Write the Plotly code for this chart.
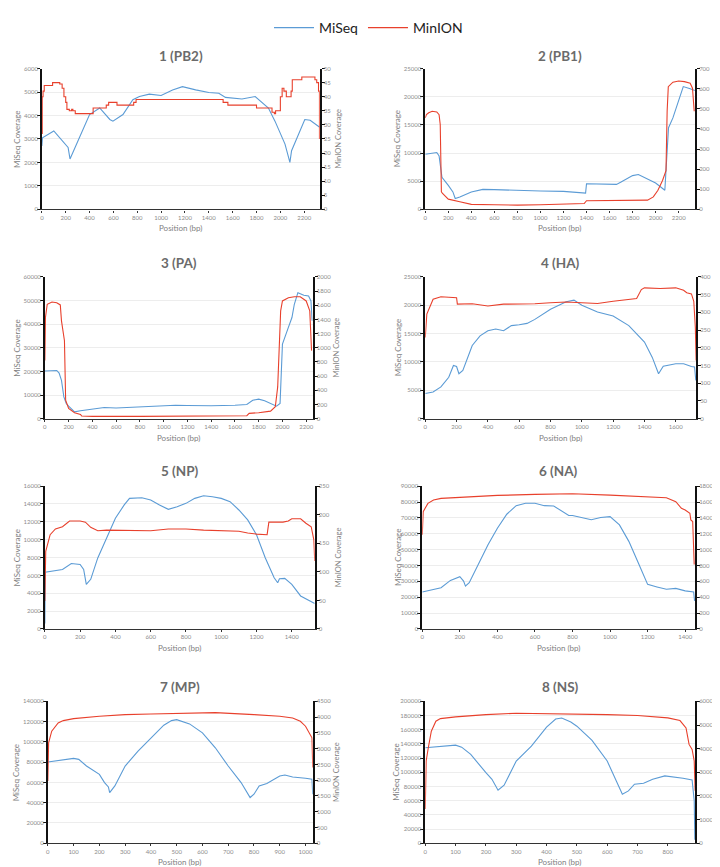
import plotly.graph_objects as go

# ---------------- DATA ----------------
segments = ["1 (PB2)", "2 (PB1)", "3 (PA)", "4 (HA)", "5 (NP)", "6 (NA)", "7 (MP)", "8 (NS)"]
x_max = [2330, 2343, 2255, 1730, 1530, 1453, 1028, 890]
x_dtick = [200, 200, 200, 200, 200, 200, 100, 100]
miseq_max = [6000, 25000, 60000, 25000, 16000, 90000, 140000, 200000]
miseq_dtick = [1000, 5000, 10000, 5000, 2000, 10000, 20000, 20000]
minion_max = [50, 700, 2000, 400, 250, 1800, 4500, 6000]
minion_dtick = [5, 100, 200, 50, 50, 200, 500, 1000]

# 1 (PB2)
pb2_miseq_pos = [0, 5, 100, 220, 236, 291, 375, 400, 485, 570, 596, 680, 763, 818, 901, 1000, 1096, 1179,
                 1290, 1400, 1484, 1540, 1678, 1789, 1900, 1955, 2039, 2080, 2094, 2177, 2205, 2250, 2316, 2330]
pb2_miseq_val = [2700, 3050, 3340, 2640, 2150, 2780, 3760, 4040, 4320, 3830, 3760, 4040, 4670, 4810, 4910, 4850,
                 5090, 5230, 5090, 4980, 4950, 4770, 4700, 4810, 4320, 3760, 2780, 2000, 2500, 3550, 3830, 3800, 3550, 3500]
pb2_minion_pos = [0, 3, 10, 20, 90, 150, 170, 185, 200, 210, 230, 250, 260, 280, 430, 540, 560, 630, 770, 790,
                  1520, 1560, 1800, 1930, 1950, 1960, 2000, 2015, 2030, 2050, 2090, 2100, 2180, 2290, 2305, 2320, 2328]
pb2_minion_val = [27, 40, 42, 44, 45, 44.5, 43, 40, 38, 35.5, 35, 35.5, 35, 34, 36, 37, 38, 37, 38, 39,
                  38, 37, 36, 34.5, 34, 35, 40, 43, 42, 40, 42, 46, 47, 46, 45, 42, 25]

# 2 (PB1)
pb1_miseq_pos = [0, 100, 120, 145, 200, 240, 260, 300, 400, 500, 600, 800, 1000, 1200, 1380, 1392, 1400, 1650,
                 1660, 1700, 1800, 1850, 1900, 1950, 2000, 2080, 2100, 2112, 2150, 2200, 2240, 2300, 2340]
pb1_miseq_val = [9800, 10100, 9500, 5700, 4260, 3100, 1930, 2200, 3100, 3560, 3500, 3330, 3270, 3200, 3040, 2900,
                 4550, 4550, 4440, 4850, 6000, 6200, 5700, 5140, 4670, 3390, 9200, 14500, 16240, 19150, 21800, 21400, 21100]
pb1_minion_pos = [0, 10, 30, 60, 100, 120, 130, 140, 150, 200, 300, 400, 600, 800, 1000, 1200, 1380, 1400,
                  1600, 1800, 1930, 1980, 2020, 2060, 2090, 2100, 2110, 2150, 2200, 2250, 2300, 2320, 2335]
pb1_minion_val = [455, 471, 480, 488, 484, 471, 422, 87, 79, 51, 38, 25, 23, 21, 23, 25, 29, 43,
                  44, 44, 46, 62, 95, 144, 193, 488, 610, 632, 638, 635, 627, 602, 488]

# 3 (PA)
pa_miseq_pos = [0, 100, 120, 140, 160, 180, 200, 250, 300, 400, 500, 600, 800, 900, 1000, 1100, 1200, 1300,
                1400, 1600, 1700, 1750, 1800, 1850, 1900, 1950, 1980, 2000, 2050, 2080, 2100, 2130, 2180, 2220, 2240, 2250]
pa_miseq_val = [20140, 20400, 19300, 16200, 9200, 6400, 5300, 2900, 3360, 4200, 4750, 4500, 5000, 5450, 5600,
                5700, 5600, 5450, 5450, 5700, 6000, 7800, 8250, 7550, 6400, 5300, 6400, 31600, 38600, 42800,
                48400, 53300, 52200, 51900, 49800, 41400]
pa_minion_pos = [0, 5, 20, 60, 100, 130, 140, 155, 165, 175, 200, 250, 300, 310, 400, 800, 1000, 1060, 1700,
                 1720, 1800, 1900, 1940, 1960, 1975, 1985, 2000, 2050, 2100, 2150, 2200, 2230, 2245]
pa_minion_val = [820, 1427, 1613, 1646, 1636, 1604, 1380, 1240, 1100, 261, 144, 84, 61, 37, 33, 33, 33, 42, 42,
                 75, 84, 107, 168, 448, 1193, 1520, 1660, 1706, 1720, 1720, 1660, 1520, 960]

# 4 (HA)
ha_miseq_pos = [0, 50, 100, 150, 180, 200, 215, 240, 300, 350, 400, 450, 500, 550, 600, 650, 700, 800, 900, 950,
                1000, 1100, 1200, 1300, 1400, 1450, 1490, 1520, 1600, 1650, 1700, 1720, 1728]
ha_miseq_val = [4430, 4700, 5600, 7300, 9380, 9200, 7930, 8500, 12900, 14600, 15500, 15800, 15500, 16400, 16550,
                16800, 17500, 19300, 20600, 20900, 20000, 18800, 18100, 16400, 13500, 10800, 7930, 9260, 9670,
                9670, 9200, 9100, 6760]
ha_minion_pos = [0, 10, 50, 100, 200, 205, 300, 400, 500, 600, 700, 800, 900, 1000, 1100, 1200, 1300, 1350,
                 1380, 1400, 1500, 1600, 1650, 1670, 1700, 1715, 1725, 1730]
ha_minion_val = [229, 295, 337, 344, 341, 323, 324, 318, 323, 323, 324, 327, 329, 327, 325, 331, 337, 339,
                 364, 369, 367, 369, 362, 355, 352, 331, 257, 164]

# 5 (NP)
np_miseq_pos = [0, 2, 100, 150, 200, 220, 235, 260, 300, 350, 400, 450, 480, 550, 600, 650, 700, 750, 800, 850,
                900, 950, 1000, 1050, 1100, 1150, 1200, 1250, 1300, 1320, 1330, 1360, 1400, 1450, 1500, 1530]
np_miseq_val = [600, 6370, 6670, 7330, 7220, 6670, 5000, 5560, 7960, 10200, 12400, 13900, 14630, 14700, 14440,
                13900, 13400, 13700, 14070, 14630, 14930, 14810, 14630, 14260, 13330, 12220, 10560, 7960, 5740,
                5180, 5630, 5670, 5000, 3700, 3150, 2850]
np_minion_pos = [0, 5, 30, 60, 100, 140, 200, 230, 260, 300, 350, 400, 500, 600, 700, 800, 900, 1000, 1100,
                 1150, 1200, 1260, 1270, 1300, 1350, 1380, 1400, 1450, 1480, 1510, 1525, 1530]
np_minion_val = [49, 136, 165, 175, 179, 189, 189, 187, 178, 172, 173, 173, 172, 172, 175, 175, 173, 172, 171,
                 168, 166, 165, 187, 187, 187, 189, 193, 193, 185, 179, 156, 119]

# 6 (NA)
na_miseq_pos = [0, 100, 150, 200, 220, 230, 250, 300, 350, 400, 450, 500, 550, 600, 650, 700, 750, 780, 800,
                900, 950, 1000, 1050, 1100, 1150, 1200, 1250, 1300, 1350, 1400, 1445, 1450]
na_miseq_val = [23300, 26000, 30600, 32900, 30200, 27000, 29200, 41700, 53100, 63500, 72300, 77700, 79200,
                79200, 77700, 77500, 74000, 71500, 71500, 68800, 70200, 70800, 65600, 55200, 41700, 28100,
                26500, 25000, 25600, 24000, 23300, 17700]
na_minion_pos = [0, 5, 30, 60, 100, 200, 300, 400, 600, 800, 1000, 1200, 1300, 1350, 1380, 1400, 1425, 1430,
                 1440, 1448]
na_minion_val = [1187, 1479, 1583, 1625, 1646, 1658, 1675, 1683, 1696, 1704, 1687, 1671, 1654, 1604, 1521,
                 1500, 1458, 1375, 1354, 812]

# 7 (MP)
mp_miseq_pos = [0, 50, 100, 120, 150, 200, 220, 235, 240, 260, 300, 350, 400, 450, 480, 500, 550, 600, 650,
                700, 750, 785, 800, 820, 850, 900, 920, 950, 1000, 1025, 1028]
mp_miseq_val = [80100, 81800, 83700, 82800, 76200, 68000, 59900, 55600, 50000, 56600, 76200, 90900, 104000,
                116500, 121000, 122000, 117800, 108900, 94200, 76200, 59900, 45100, 48400, 56600, 58900,
                66400, 67400, 65400, 64100, 63100, 48400]
mp_minion_pos = [0, 3, 15, 40, 60, 100, 200, 300, 400, 500, 600, 650, 800, 900, 950, 980, 1000, 1015, 1025, 1028]
mp_minion_val = [1977, 3186, 3554, 3817, 3890, 3954, 4027, 4080, 4100, 4122, 4132, 4143, 4080, 4027, 3975,
                 3870, 3712, 3500, 3344, 2400]

# 8 (NS)
ns_miseq_pos = [0, 50, 100, 120, 150, 200, 220, 240, 260, 300, 350, 400, 430, 450, 480, 500, 550, 600, 650,
                670, 690, 720, 750, 790, 800, 850, 880, 887, 889]
ns_miseq_val = [134600, 136000, 138300, 135500, 125200, 99500, 90200, 74800, 81800, 115900, 136900, 163600,
                175200, 176600, 171000, 165000, 144900, 115900, 69200, 73800, 83200, 84600, 90200, 94900,
                94400, 91600, 89300, 60000, 5000]
ns_minion_pos = [0, 3, 10, 20, 35, 50, 100, 200, 300, 400, 500, 600, 700, 800, 840, 860, 870, 880, 887, 890]
ns_minion_val = [1444, 3478, 4039, 4740, 5161, 5273, 5343, 5442, 5498, 5484, 5456, 5442, 5400, 5302, 5189,
                 4880, 4180, 3969, 3478, 2216]

miseq_pos = [pb2_miseq_pos, pb1_miseq_pos, pa_miseq_pos, ha_miseq_pos, np_miseq_pos, na_miseq_pos, mp_miseq_pos, ns_miseq_pos]
miseq_val = [pb2_miseq_val, pb1_miseq_val, pa_miseq_val, ha_miseq_val, np_miseq_val, na_miseq_val, mp_miseq_val, ns_miseq_val]
minion_pos = [pb2_minion_pos, pb1_minion_pos, pa_minion_pos, ha_minion_pos, np_minion_pos, na_minion_pos, mp_minion_pos, ns_minion_pos]
minion_val = [pb2_minion_val, pb1_minion_val, pa_minion_val, ha_minion_val, np_minion_val, na_minion_val, mp_minion_val, ns_minion_val]

# ---------------- LAYOUT (pixels) ----------------
W, H = 720, 867
# (left, right, top, bottom) plot areas in pixels
boxes = [(32, 311, 57, 199), (417, 688, 57, 199),
         (35, 304, 267, 410), (417, 689, 267, 410),
         (35, 306, 478, 622), (414, 688, 478, 622),
         (38, 304, 695, 838), (417, 688, 695, 838)]
title_y = [44, 44, 253, 253, 463, 463, 680, 680]
left_title_x = [7, 389, 7, 389, 7, 389, 6, 388]
right_title_x = [330, 710, 328, 710, 330, 710, 328, 710]

BLUE = "#5B9BD5"
RED = "#E8402C"
FONT = "Lato, 'Open Sans', sans-serif"
TICKC = "#8C8C8C"

def px(v):
    return v / W

def py(v):
    return 1 - v / H

fig = go.Figure()
layout = {}
annotations = []

for i in range(8):
    xa = "x" if i == 0 else f"x{i+1}"
    yl = f"y{2*i+1}" if i > 0 else "y"
    yr = f"y{2*i+2}"
    xname = "xaxis" if i == 0 else f"xaxis{i+1}"
    ylname = "yaxis" if i == 0 else f"yaxis{2*i+1}"
    yrname = f"yaxis{2*i+2}"
    l, r, t, b = boxes[i]

    fig.add_trace(go.Scatter(x=miseq_pos[i], y=miseq_val[i], mode="lines", name="MiSeq",
                             line=dict(color=BLUE, width=1.1), xaxis=xa, yaxis=yl,
                             showlegend=(i == 0), legendgroup="m"))
    fig.add_trace(go.Scatter(x=minion_pos[i], y=minion_val[i], mode="lines", name="MinION",
                             line=dict(color=RED, width=1.1, shape=("hv" if i == 0 else "linear")),
                             xaxis=xa, yaxis=yr, showlegend=(i == 0), legendgroup="n"))

    tf = dict(size=6, color=TICKC, family=FONT)
    layout[xname] = dict(domain=[px(l), px(r)], anchor=yl, range=[0, x_max[i]], dtick=x_dtick[i],
                         tick0=0, showgrid=False, zeroline=False, showline=True, linecolor="#333333",
                         linewidth=1.3, ticks="outside", ticklen=2, tickcolor="#333333",
                         tickformat="d", tickfont=tf)
    layout[ylname] = dict(domain=[py(b), py(t)], anchor=xa, range=[0, miseq_max[i]], dtick=miseq_dtick[i],
                          tick0=0, showgrid=True, gridcolor="#EDEDED", gridwidth=1, zeroline=False,
                          showline=True, linecolor="#111111", linewidth=1.6, ticks="outside", ticklen=3,
                          tickcolor="#111111", tickformat="d", tickfont=tf, ticklabelstandoff=-2)
    layout[yrname] = dict(anchor=xa, overlaying=yl, side="right", range=[0, minion_max[i]],
                          dtick=minion_dtick[i], tick0=0, showgrid=False, zeroline=False, showline=True,
                          linecolor="#111111", linewidth=1.6, ticks="outside", ticklen=3,
                          tickcolor="#111111", tickformat="d", tickfont=tf, ticklabelstandoff=-2)

    cx = (l + r) / 2
    cy = (t + b) / 2
    annotations.append(dict(text=f"<b>{segments[i]}</b>", x=px(cx), y=py(title_y[i]), xref="paper",
                            yref="paper", showarrow=False, xanchor="center", yanchor="middle",
                            font=dict(size=13.5, color="#6B6B6B", family=FONT)))
    annotations.append(dict(text="Position (bp)", x=px(cx), y=py(b + 19), xref="paper", yref="paper",
                            showarrow=False, xanchor="center", yanchor="middle",
                            font=dict(size=8, color="#7F7F7F", family=FONT)))
    annotations.append(dict(text="MiSeq Coverage", x=px(left_title_x[i]), y=py(cy), xref="paper",
                            yref="paper", showarrow=False, textangle=-90, xanchor="center",
                            yanchor="middle", borderpad=0, font=dict(size=8, color="#7F7F7F", family=FONT)))
    annotations.append(dict(text="MinION Coverage", x=px(right_title_x[i]), y=py(cy), xref="paper",
                            yref="paper", showarrow=False, textangle=-90, xanchor="center",
                            yanchor="middle", borderpad=0, font=dict(size=7.5, color="#7F7F7F", family=FONT)))

fig.update_layout(**layout)
fig.update_layout(
    width=W, height=H, margin=dict(l=0, r=0, t=0, b=0),
    paper_bgcolor="white", plot_bgcolor="white",
    annotations=annotations,
    legend=dict(orientation="h", x=0.5, xanchor="center", y=1.0, yanchor="top",
                font=dict(size=14, color="#222222", family=FONT), itemwidth=40,
                bgcolor="rgba(0,0,0,0)"),
    showlegend=True,
)

fig.write_html("out.html")
